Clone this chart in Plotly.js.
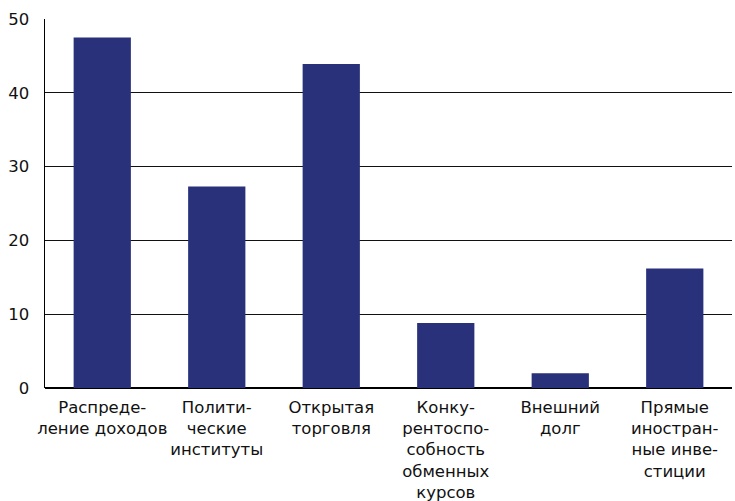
<!DOCTYPE html>
<html>
<head>
<meta charset="utf-8">
<script src="https://cdn.plot.ly/plotly-3.0.1.min.js"></script>
<style>html,body{margin:0;padding:0;background:#fff;}#chart{width:735px;height:501px;}</style>
</head>
<body>
<div id="chart"></div>
<script>
const categories = [
  "Распреде-<br>ление доходов",
  "Полити-<br>ческие<br>институты",
  "Открытая<br>торговля",
  "Конку-<br>рентоспо-<br>собность<br>обменных<br>курсов",
  "Внешний<br>долг",
  "Прямые<br>иностран-<br>ные инве-<br>стиции"
];
const values = [47.5, 27.3, 43.9, 8.8, 2.0, 16.2];
const yTickVals = [0, 10, 20, 30, 40, 50];

const trace = {
  type: 'bar',
  x: categories,
  y: values,
  marker: {color: '#29317a'},
  width: 0.5,
  hoverinfo: 'none'
};

const FONT = 'DejaVu Sans, Liberation Sans, Arial, sans-serif';

const layout = {
  width: 735,
  height: 501,
  margin: {l: 45, r: 3, t: 19, b: 113},
  paper_bgcolor: '#fff',
  plot_bgcolor: '#fff',
  showlegend: false,
  font: {family: FONT, size: 16.5, color: '#111'},
  xaxis: {
    type: 'category',
    range: [-0.5, 5.5],
    showgrid: false,
    showline: false,
    ticks: '',
    ticklabelstandoff: 7,
    tickfont: {family: FONT, size: 16.5, color: '#111'},
    tickangle: 0
  },
  yaxis: {
    range: [0, 50],
    tickvals: yTickVals,
    ticktext: yTickVals.map(String),
    showgrid: true,
    gridcolor: '#111',
    gridwidth: 1.2,
    zeroline: true,
    zerolinecolor: '#000',
    zerolinewidth: 1.8,
    showline: true,
    linecolor: '#000',
    linewidth: 1.5,
    ticks: '',
    ticklabelstandoff: 11,
    tickfont: {family: FONT, size: 16.5, color: '#111'}
  }
};

Plotly.newPlot('chart', [trace], layout, {staticPlot: true, displayModeBar: false});
</script>
</body>
</html>
